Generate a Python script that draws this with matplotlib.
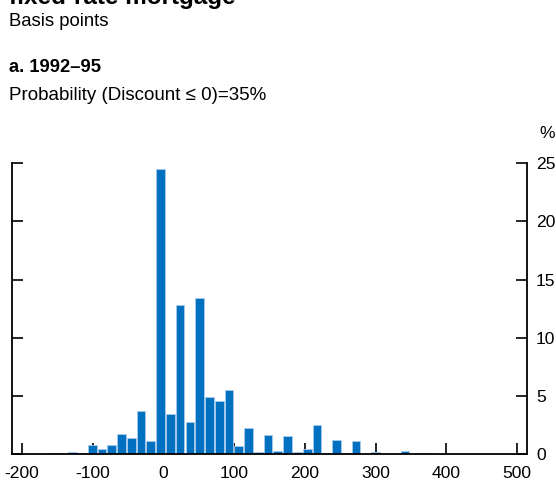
import matplotlib
import matplotlib.pyplot as plt

matplotlib.use("Agg")

plt.rcParams["font.family"] = ["Liberation Sans", "DejaVu Sans"]
plt.rcParams["axes.unicode_minus"] = False

# histogram bins (basis points, bin centres) and share of loans (%)
bin_centers = [
    -169.8, -156.0, -142.2, -128.4, -114.6, -100.7, -86.9, -73.1, -59.3, -45.5,
    -31.6, -17.8, -4.0, 9.8, 23.6, 37.5, 51.3, 65.1, 78.9, 92.7,
    106.6, 120.4, 134.2, 148.0, 161.8, 175.7, 189.5, 203.3, 217.1, 230.9,
    244.8, 258.6, 272.4, 286.2, 300.0, 313.9, 327.7, 341.5, 355.3, 369.1,
    383.0, 396.8,
]
shares = [
    0.02, 0.08, 0.08, 0.20, 0.08, 0.77, 0.43, 0.83, 1.78, 1.43,
    3.70, 1.14, 24.5, 3.46, 12.8, 2.77, 13.4, 4.90, 4.60, 5.50,
    0.70, 2.29, 0.18, 1.65, 0.31, 1.57, 0.23, 0.43, 2.55, 0.08,
    1.27, 0.07, 1.13, 0.00, 0.16, 0.00, 0.04, 0.25, 0.00, 0.09,
    0.00, 0.03,
]
bin_width = 13.82
x_ticks = [-200, -100, 0, 100, 200, 300, 400, 500]
y_ticks = [0, 5, 10, 15, 20, 25]

fig = plt.figure(figsize=(5.56, 4.82), dpi=100)
ax = fig.add_axes([12 / 556, 27.7 / 482, 515 / 556, 291.3 / 482])

ax.bar(bin_centers, shares, width=bin_width * 0.9, color="#0070C0",
       edgecolor="#A9CBEA", linewidth=0.6, zorder=2)

ax.set_xlim(-214, 514)
ax.set_ylim(0, 25)
ax.set_xticks(x_ticks)
ax.set_yticks(y_ticks)

ax.spines["top"].set_visible(False)
for side in ("left", "right", "bottom"):
    ax.spines[side].set_linewidth(1.3)
    ax.spines[side].set_zorder(3)

ax.tick_params(axis="x", direction="in", length=8, width=1.2, pad=8.2,
               labelsize=12.6)
ax.tick_params(axis="y", direction="in", length=8, width=1.2, pad=6.5,
               labelsize=12.6, left=True, right=True,
               labelleft=False, labelright=True)

fig.text(9 / 556, 1 - 4 / 482, "fixed-rate mortgage", fontsize=17.5,
         fontweight="bold", va="baseline", ha="left")
fig.text(9 / 556, 1 - 25.7 / 482, "Basis points", fontsize=13.3,
         va="baseline", ha="left")
fig.text(9 / 556, 1 - 71.7 / 482, "a. 1992\u201395", fontsize=13.2,
         fontweight="bold", va="baseline", ha="left")
fig.text(9 / 556, 1 - 100 / 482, "Probability (Discount \u2264 0)=35%",
         fontsize=13.5, va="baseline", ha="left")
fig.text(547 / 556, 1 - 133 / 482, "%", fontsize=12.6, va="center",
         ha="center")

fig.savefig("out.png", dpi=100)
plt.close(fig)
